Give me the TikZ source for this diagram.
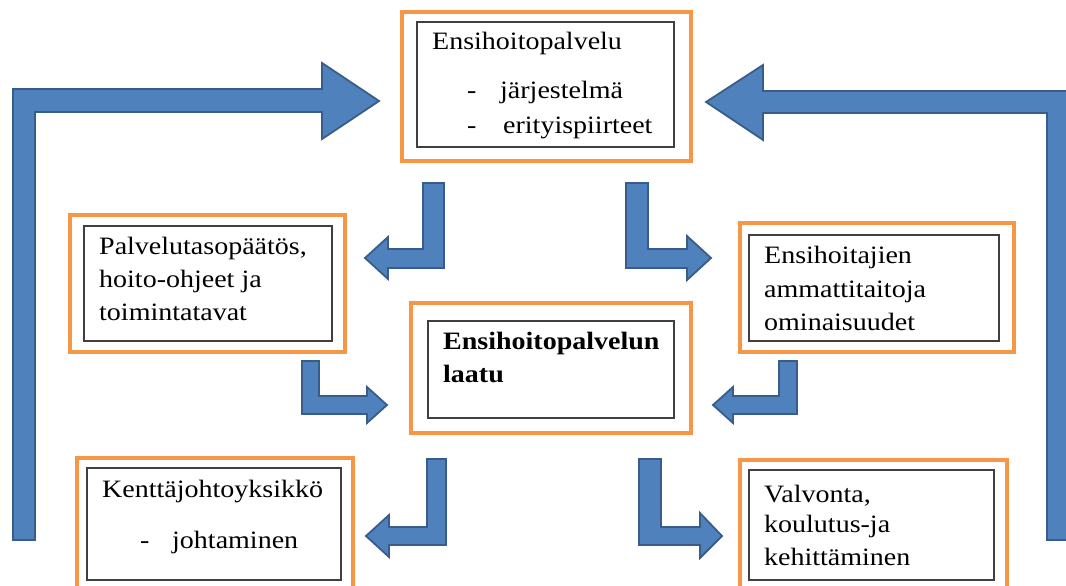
\documentclass[tikz,border=0pt]{standalone}
\usepackage{fontspec}
\setmainfont{Liberation Serif}[FakeStretch=1.12]
\definecolor{arrfill}{HTML}{4F81BD}
\definecolor{arrline}{HTML}{385D8A}
\definecolor{orng}{HTML}{F79646}
\definecolor{inbox}{HTML}{404040}
\tikzset{
  blockarrow/.style={fill=arrfill, draw=arrline, line width=1.8pt, line join=miter},
  obox/.style={draw=orng, line width=3.6pt, rectangle, inner sep=0pt},
  ibox/.style={draw=inbox, line width=1.4pt, rectangle, inner sep=0pt},
  txt/.style={anchor=base west, inner sep=0pt, font=\fontsize{25}{33}\selectfont},
  btxt/.style={txt, font=\fontsize{25}{33}\selectfont\bfseries}
}
\begin{document}
\begin{tikzpicture}[x=1pt,y=-1pt]
\useasboundingbox (0,0) rectangle (1066,586);
\clip (0,0) rectangle (1066,586);
% big return arrows
\draw[blockarrow] (13,540) -- (13,89) -- (322,89) -- (322,63) -- (379,101) -- (322,139) -- (322,112) -- (35,112) -- (35,540) -- cycle;
\draw[blockarrow] (1070,540) -- (1070,91) -- (763,91) -- (763,65) -- (706,102) -- (763,140) -- (763,113) -- (1047,113) -- (1047,540) -- cycle;
% small bent arrows
\draw[blockarrow] (423,183) -- (444,183) -- (444,268) -- (388,268) -- (388,279) -- (365,258) -- (388,237) -- (388,249) -- (423,249) -- cycle;
\draw[blockarrow] (626,183) -- (648,183) -- (648,249) -- (687,249) -- (687,236) -- (711,258) -- (687,280) -- (687,268) -- (626,268) -- cycle;
\draw[blockarrow] (302,361) -- (319,361) -- (319,396) -- (367,396) -- (367,387) -- (387,405) -- (367,423) -- (367,414) -- (302,414) -- cycle;
\draw[blockarrow] (797,361) -- (779,361) -- (779,396) -- (733,396) -- (733,387) -- (713,405) -- (733,423) -- (733,414) -- (797,414) -- cycle;
\draw[blockarrow] (427,459) -- (446,459) -- (446,545) -- (389,545) -- (389,557) -- (366,536) -- (389,515) -- (389,527) -- (427,527) -- cycle;
\draw[blockarrow] (639,459) -- (661,459) -- (661,527) -- (700,527) -- (700,513) -- (722,536) -- (700,558) -- (700,545) -- (639,545) -- cycle;
% boxes
\node (topO) [obox, minimum width=289, minimum height=149] at (546.5,86.5) {};
\node (topI) [ibox, minimum width=257, minimum height=125] at (545.5,84.5) {};
\node (lefO) [obox, minimum width=275, minimum height=137] at (207.5,283.5) {};
\node (lefI) [ibox, minimum width=248, minimum height=115] at (208,283.5) {};
\node (rigO) [obox, minimum width=274, minimum height=129] at (877,287.5) {};
\node (rigI) [ibox, minimum width=250, minimum height=106] at (874,288) {};
\node (cenO) [obox, minimum width=280, minimum height=130] at (551,368) {};
\node (cenI) [ibox, minimum width=246, minimum height=97] at (551,369.5) {};
\node (blO) [obox, minimum width=276, minimum height=142] at (215,529) {};
\node (blI) [ibox, minimum width=254, minimum height=112] at (214,524) {};
\node (brO) [obox, minimum width=267, minimum height=140] at (873.5,530) {};
\node (brI) [ibox, minimum width=245, minimum height=110] at (871.5,525) {};
% texts
\node (t1) [txt] at (432,50) {Ensihoitopalvelu};
\node (t2) [txt] at (467,99) {-};
\node (t3) [txt] at (500,99) {järjestelmä};
\node (t4) [txt] at (467,133) {-};
\node (t5) [txt] at (503,133) {erityispiirteet};
\node (l1) [txt] at (99,254) {Palvelutasopäätös,};
\node (l2) [txt] at (99,287) {hoito-ohjeet ja};
\node (l3) [txt] at (99,320) {toimintatavat};
\node (r1) [txt] at (764,263) {Ensihoitajien};
\node (r2) [txt] at (764,297) {ammattitaitoja};
\node (r3) [txt] at (764,330) {ominaisuudet};
\node (c1) [btxt] at (443,349) {Ensihoitopalvelun};
\node (c2) [btxt] at (443,382) {laatu};
\node (b1) [txt] at (102,497) {Kenttäjohtoyksikkö};
\node (b2) [txt] at (140,548) {-};
\node (b3) [txt] at (172,548) {johtaminen};
\node (v1) [txt] at (764,502) {Valvonta,};
\node (v2) [txt] at (764,532) {koulutus-ja};
\node (v3) [txt] at (764,565) {kehittäminen};
\end{tikzpicture}
\end{document}
